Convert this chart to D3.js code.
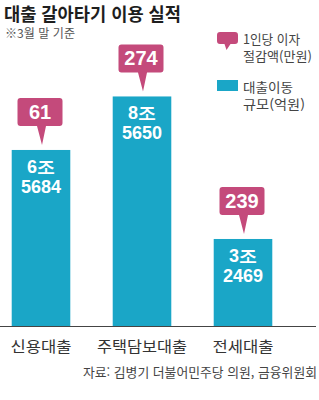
<!DOCTYPE html>
<html lang="ko">
<head>
<meta charset="UTF-8" />
<title>대출 갈아타기 이용 실적</title>
<script src="https://d3js.org/d3.v7.min.js"></script>
<style>
  body { margin: 0; background: #fff; }
  svg { display: block; }
  .kr { font-family: "Noto Sans CJK KR", "Noto Sans", sans-serif; }
  .num { font-family: "Liberation Sans", Arial, sans-serif; font-weight: bold; }
</style>
</head>
<body>
<svg width="319" height="400"></svg>
<script>
  // 데이터
  const categories = ["신용대출", "주택담보대출", "전세대출"];
  const volume = [65684, 85650, 32469];          // 대출이동 규모(억원)
  const volumeLabel = [["6조", "5684"], ["8조", "5650"], ["3조", "2469"]];
  const saving = [61, 274, 239];                 // 1인당 이자 절감액(만원)

  const pink = "#c44a7b", cyan = "#1aa6c7";

  const svg = d3.select("svg");

  // 스케일
  const x = d3.scaleBand()
    .domain(categories)
    .range([-9.5, 293.5])
    .paddingInner(0.42)
    .paddingOuter(0.21);

  const y = d3.scaleLinear()
    .domain([0, 100000])
    .range([326, 58]);

  // 제목
  svg.append("text")
    .attr("class", "kr")
    .attr("x", 4).attr("y", 20.5)
    .attr("font-size", 18).attr("font-weight", "bold")
    .attr("fill", "#1e1e1e")
    .attr("textLength", 177).attr("lengthAdjust", "spacingAndGlyphs")
    .text("대출 갈아타기 이용 실적");

  svg.append("text")
    .attr("class", "kr")
    .attr("x", 5).attr("y", 38)
    .attr("font-size", 12)
    .attr("fill", "#555")
    .attr("textLength", 70).attr("lengthAdjust", "spacingAndGlyphs")
    .text("※3월 말 기준");

  // 말풍선 모양
  function bubble(w, h, tail) {
    const r = 3;
    return `M${-w/2 + r},0 H${w/2 - r} Q${w/2},0 ${w/2},${r} V${h - r} Q${w/2},${h} ${w/2 - r},${h}`
      + ` H${tail[2]} L${tail[1]},${h + tail[0]} L${tail[3]},${h} H${-w/2 + r}`
      + ` Q${-w/2},${h} ${-w/2},${h - r} V${r} Q${-w/2},0 ${-w/2 + r},0 Z`;
  }

  // 막대
  svg.selectAll(".bar")
    .data(volume)
    .join("rect")
    .attr("class", "bar")
    .attr("x", (d, i) => x(categories[i]))
    .attr("y", d => y(d))
    .attr("width", x.bandwidth())
    .attr("height", d => y(0) - y(d))
    .attr("fill", cyan);

  // 막대 안 라벨
  volumeLabel.forEach((lab, i) => {
    const cx = x(categories[i]) + x.bandwidth() / 2;
    const top = y(volume[i]);
    svg.append("text").attr("class", "num")
      .attr("x", cx).attr("y", top + 23)
      .attr("text-anchor", "middle").attr("font-size", 18).attr("fill", "#fff")
      .text(lab[0]);
    svg.append("text").attr("class", "num")
      .attr("x", cx).attr("y", top + 43)
      .attr("text-anchor", "middle").attr("font-size", 18).attr("fill", "#fff")
      .text(lab[1]);
  });

  // 말풍선 (절감액)
  saving.forEach((v, i) => {
    const cx = x(categories[i]) + x.bandwidth() / 2 - 1;
    const top = y(volume[i]);
    const g = svg.append("g").attr("transform", `translate(${cx},${top - 52})`);
    g.append("path")
      .attr("d", bubble(45, 28, [19, 2, 6, -3]))
      .attr("fill", pink);
    g.append("text").attr("class", "num")
      .attr("x", 0).attr("y", 21)
      .attr("text-anchor", "middle").attr("font-size", 20).attr("fill", "#fff")
      .text(v);
  });

  // 축 선
  svg.append("line")
    .attr("x1", 0).attr("x2", 316)
    .attr("y1", y(0) + 0.5).attr("y2", y(0) + 0.5)
    .attr("stroke", "#444").attr("stroke-width", 1.2);

  // 카테고리 라벨
  const xAxis = svg.append("g").attr("transform", `translate(0,${y(0)})`)
    .call(d3.axisBottom(x).tickSize(0).tickPadding(0));
  xAxis.select(".domain").remove();
  xAxis.selectAll("text")
    .attr("class", "kr")
    .attr("y", 26)
    .attr("dy", 0)
    .attr("font-size", 15)
    .attr("fill", "#333")
    .attr("textLength", d => categories.indexOf(d) === 1 ? 90 : 61)
    .attr("lengthAdjust", "spacingAndGlyphs");

  // 출처
  svg.append("text")
    .attr("class", "kr")
    .attr("x", 317).attr("y", 377)
    .attr("text-anchor", "end")
    .attr("font-size", 13).attr("fill", "#444")
    .attr("textLength", 234).attr("lengthAdjust", "spacingAndGlyphs")
    .text("자료: 김병기 더불어민주당 의원, 금융위원회");

  // 범례
  const lg = svg.append("g").attr("transform", "translate(217,32)");
  lg.append("path")
    .attr("transform", "translate(10.5,0)")
    .attr("d", bubble(21, 12, [6, -1, 3, -3]))
    .attr("fill", pink);
  lg.append("rect")
    .attr("x", 0).attr("y", 48).attr("width", 21).attr("height", 11)
    .attr("fill", cyan);
  const legendText = [
    { y: 12, lines: [["1인당 이자", 57], ["절감액(만원)", 69]] },
    { y: 60, lines: [["대출이동", 50], ["규모(억원)", 62]] }
  ];
  const lt = lg.selectAll(".lt")
    .data(legendText)
    .join("text")
    .attr("class", "kr lt")
    .attr("y", d => d.y)
    .attr("font-size", 13)
    .attr("fill", "#444");
  lt.selectAll("tspan")
    .data(d => d.lines)
    .join("tspan")
    .attr("x", 26)
    .attr("dy", (d, i) => i === 0 ? 0 : 17)
    .attr("textLength", d => d[1])
    .attr("lengthAdjust", "spacingAndGlyphs")
    .text(d => d[0]);
</script>
</body>
</html>
